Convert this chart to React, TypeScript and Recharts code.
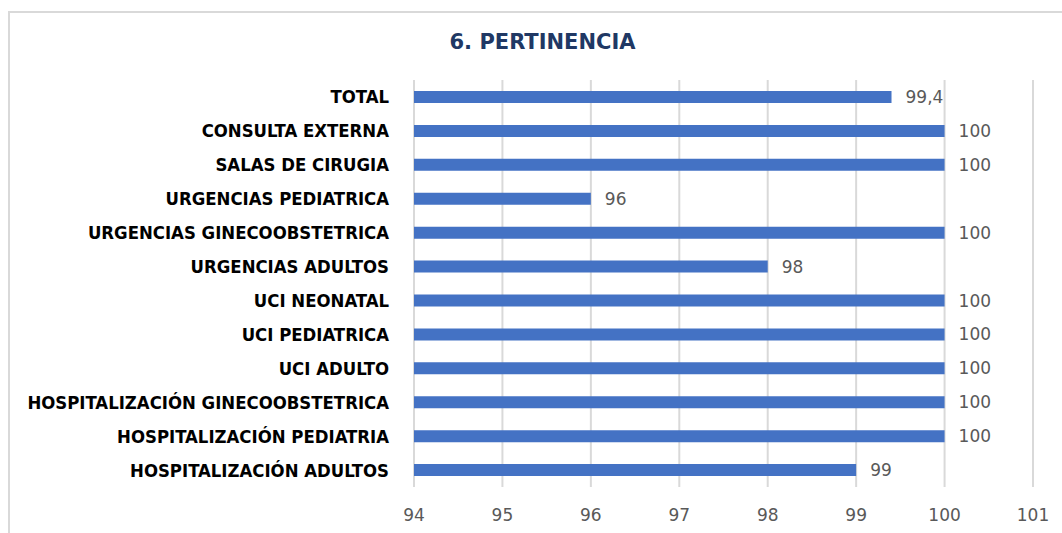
import React from "react";
import { BarChart, Bar, XAxis, YAxis, CartesianGrid, LabelList } from "recharts";

const categories = [
  "TOTAL",
  "CONSULTA EXTERNA",
  "SALAS DE CIRUGIA",
  "URGENCIAS PEDIATRICA",
  "URGENCIAS GINECOOBSTETRICA",
  "URGENCIAS ADULTOS",
  "UCI NEONATAL",
  "UCI PEDIATRICA",
  "UCI ADULTO",
  "HOSPITALIZACIÓN GINECOOBSTETRICA",
  "HOSPITALIZACIÓN PEDIATRIA",
  "HOSPITALIZACIÓN ADULTOS",
];
const values = [99.4, 100, 100, 96, 100, 98, 100, 100, 100, 100, 100, 99];
const xTicks = [94, 95, 96, 97, 98, 99, 100, 101];
const title = "6. PERTINENCIA";

const data = categories.map((c, i) => ({ name: c, value: values[i] }));

const labelFont = "'DejaVu Sans Condensed', 'DejaVu Sans', sans-serif";
const numFont = "'DejaVu Sans', sans-serif";

export default function App() {
  return (
    <div style={{ position: "absolute", left: 0, top: 0, width: 1062, height: 533, overflow: "hidden", background: "#fff" }}>
      <div
        style={{
          position: "absolute",
          left: 8,
          top: 11,
          width: 1200,
          height: 700,
          border: "2px solid #d9d9d9",
          boxSizing: "border-box",
        }}
      />
      <div
        style={{
          position: "absolute",
          left: 0,
          width: 1085,
          top: 28,
          textAlign: "center",
          fontFamily: numFont,
          fontWeight: "bold",
          fontSize: 21,
          color: "#203864",
          lineHeight: "28px",
        }}
      >
        {title}
      </div>
      <div style={{ position: "absolute", left: 0, top: 0 }}>
        <BarChart
          width={1062}
          height={533}
          data={data}
          layout="vertical"
          margin={{ top: 80, right: 29, bottom: 0, left: 0 }}
          barCategoryGap={0}
        >
          <CartesianGrid horizontal={false} vertical={true} stroke="#d9d9d9" strokeWidth={2} />
          <XAxis
            type="number"
            domain={[94, 101]}
            ticks={xTicks}
            allowDataOverflow
            axisLine={false}
            tickLine={false}
            tickSize={0}
            tickMargin={22}
            height={46}
            tick={{ fill: "#595959", fontSize: 17, fontFamily: numFont }}
          />
          <YAxis
            type="category"
            dataKey="name"
            width={414}
            axisLine={false}
            tickLine={false}
            tickSize={0}
            tickMargin={25}
            interval={0}
            tick={{ fill: "#000", fontSize: 18.4, fontWeight: "bold", fontFamily: labelFont }}
          />
          <Bar dataKey="value" fill="#4472C4" barSize={12} isAnimationActive={false}>
            <LabelList
              dataKey="value"
              position="right"
              offset={14}
              formatter={(v: number) => String(v).replace(".", ",")}
              style={{ fill: "#595959", fontSize: 17, fontFamily: numFont }}
            />
          </Bar>
        </BarChart>
      </div>
    </div>
  );
}
